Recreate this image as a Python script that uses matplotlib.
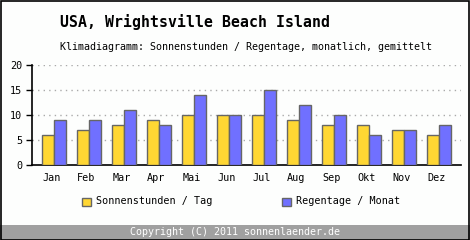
import numpy as np
import matplotlib
matplotlib.use('Agg')
import matplotlib.pyplot as plt
from matplotlib.patches import Rectangle

months = ['Jan', 'Feb', 'Mar', 'Apr', 'Mai', 'Jun', 'Jul', 'Aug', 'Sep', 'Okt', 'Nov', 'Dez']
sonne = [6, 7, 8, 9, 10, 10, 10, 9, 8, 8, 7, 6]
regen = [9, 9, 11, 8, 14, 10, 15, 12, 10, 6, 7, 8]
yticks = [0, 5, 10, 15, 20]

W, H = 470, 240
fig = plt.figure(figsize=(W / 100, H / 100), dpi=100)
fig.patch.set_facecolor('#fdfefd')
plt.rcParams['font.family'] = ['DejaVu Sans Mono']

# axes: x from 32px to 461px, y 0 at 165px, 20 at 65px
ax = fig.add_axes([32 / W, 1 - 165 / H, (461 - 32) / W, 100 / H])
ax.set_facecolor('#fdfefd')

x = np.arange(len(months))
bw = 12 / 35
ax.bar(x - bw / 2, sonne, bw, color='#ffd733', edgecolor='#666666', linewidth=1, zorder=3)
ax.bar(x + bw / 2, regen, bw, color='#7070ff', edgecolor='#666666', linewidth=1, zorder=3)

ax.set_xlim(-0.637, 11.62)
ax.set_ylim(0, 20)
ax.set_yticks(yticks)
ax.set_yticklabels([str(v) for v in yticks], fontsize=7.3)
ax.set_xticks(x - 0.08)
ax.set_xticklabels(months, fontsize=7.3)
ax.tick_params(axis='x', length=0, pad=6)
ax.tick_params(axis='y', length=4, width=1, pad=3)
for s in ['top', 'right']:
    ax.spines[s].set_visible(False)
ax.spines['left'].set_linewidth(1.2)
ax.spines['bottom'].set_linewidth(1.2)
ax.yaxis.grid(True, linestyle=(0, (1, 3)), color='#aaaaaa', linewidth=1)
ax.set_axisbelow(True)

# titles
fig.text(60 / W, 1 - 22 / H, 'USA, Wrightsville Beach Island', fontsize=10.7,
         fontweight='bold', va='center', ha='left')
fig.text(60 / W, 1 - 47 / H, 'Klimadiagramm: Sonnenstunden / Regentage, monatlich, gemittelt',
         fontsize=7.2, va='center', ha='left')

# legend
for sx, col, lab in [(82, '#ffd733', 'Sonnenstunden / Tag'), (282, '#7070ff', 'Regentage / Monat')]:
    fig.patches.append(Rectangle((sx / W, 1 - 206 / H), 8.5 / W, 8.5 / H, transform=fig.transFigure,
                                 facecolor=col, edgecolor='#666666', linewidth=1))
    fig.text((sx + 14.5) / W, 1 - 201.5 / H, lab, fontsize=7.3, va='center', ha='left')

# footer
fig.patches.append(Rectangle((0, 0), 1, 15 / H, transform=fig.transFigure,
                             facecolor='#a0a0a0', edgecolor='none'))
fig.text(0.5, 1 - 232 / H, 'Copyright (C) 2011 sonnenlaender.de', fontsize=7.2,
         color='white', va='center', ha='center')

# border
fig.patches.append(Rectangle((0.5 / W, 0.5 / H), 1 - 1.5 / W, 1 - 1.5 / H, transform=fig.transFigure,
                             facecolor='none', edgecolor='black', linewidth=1.2))

fig.savefig('out.png', dpi=100, facecolor=fig.get_facecolor())
